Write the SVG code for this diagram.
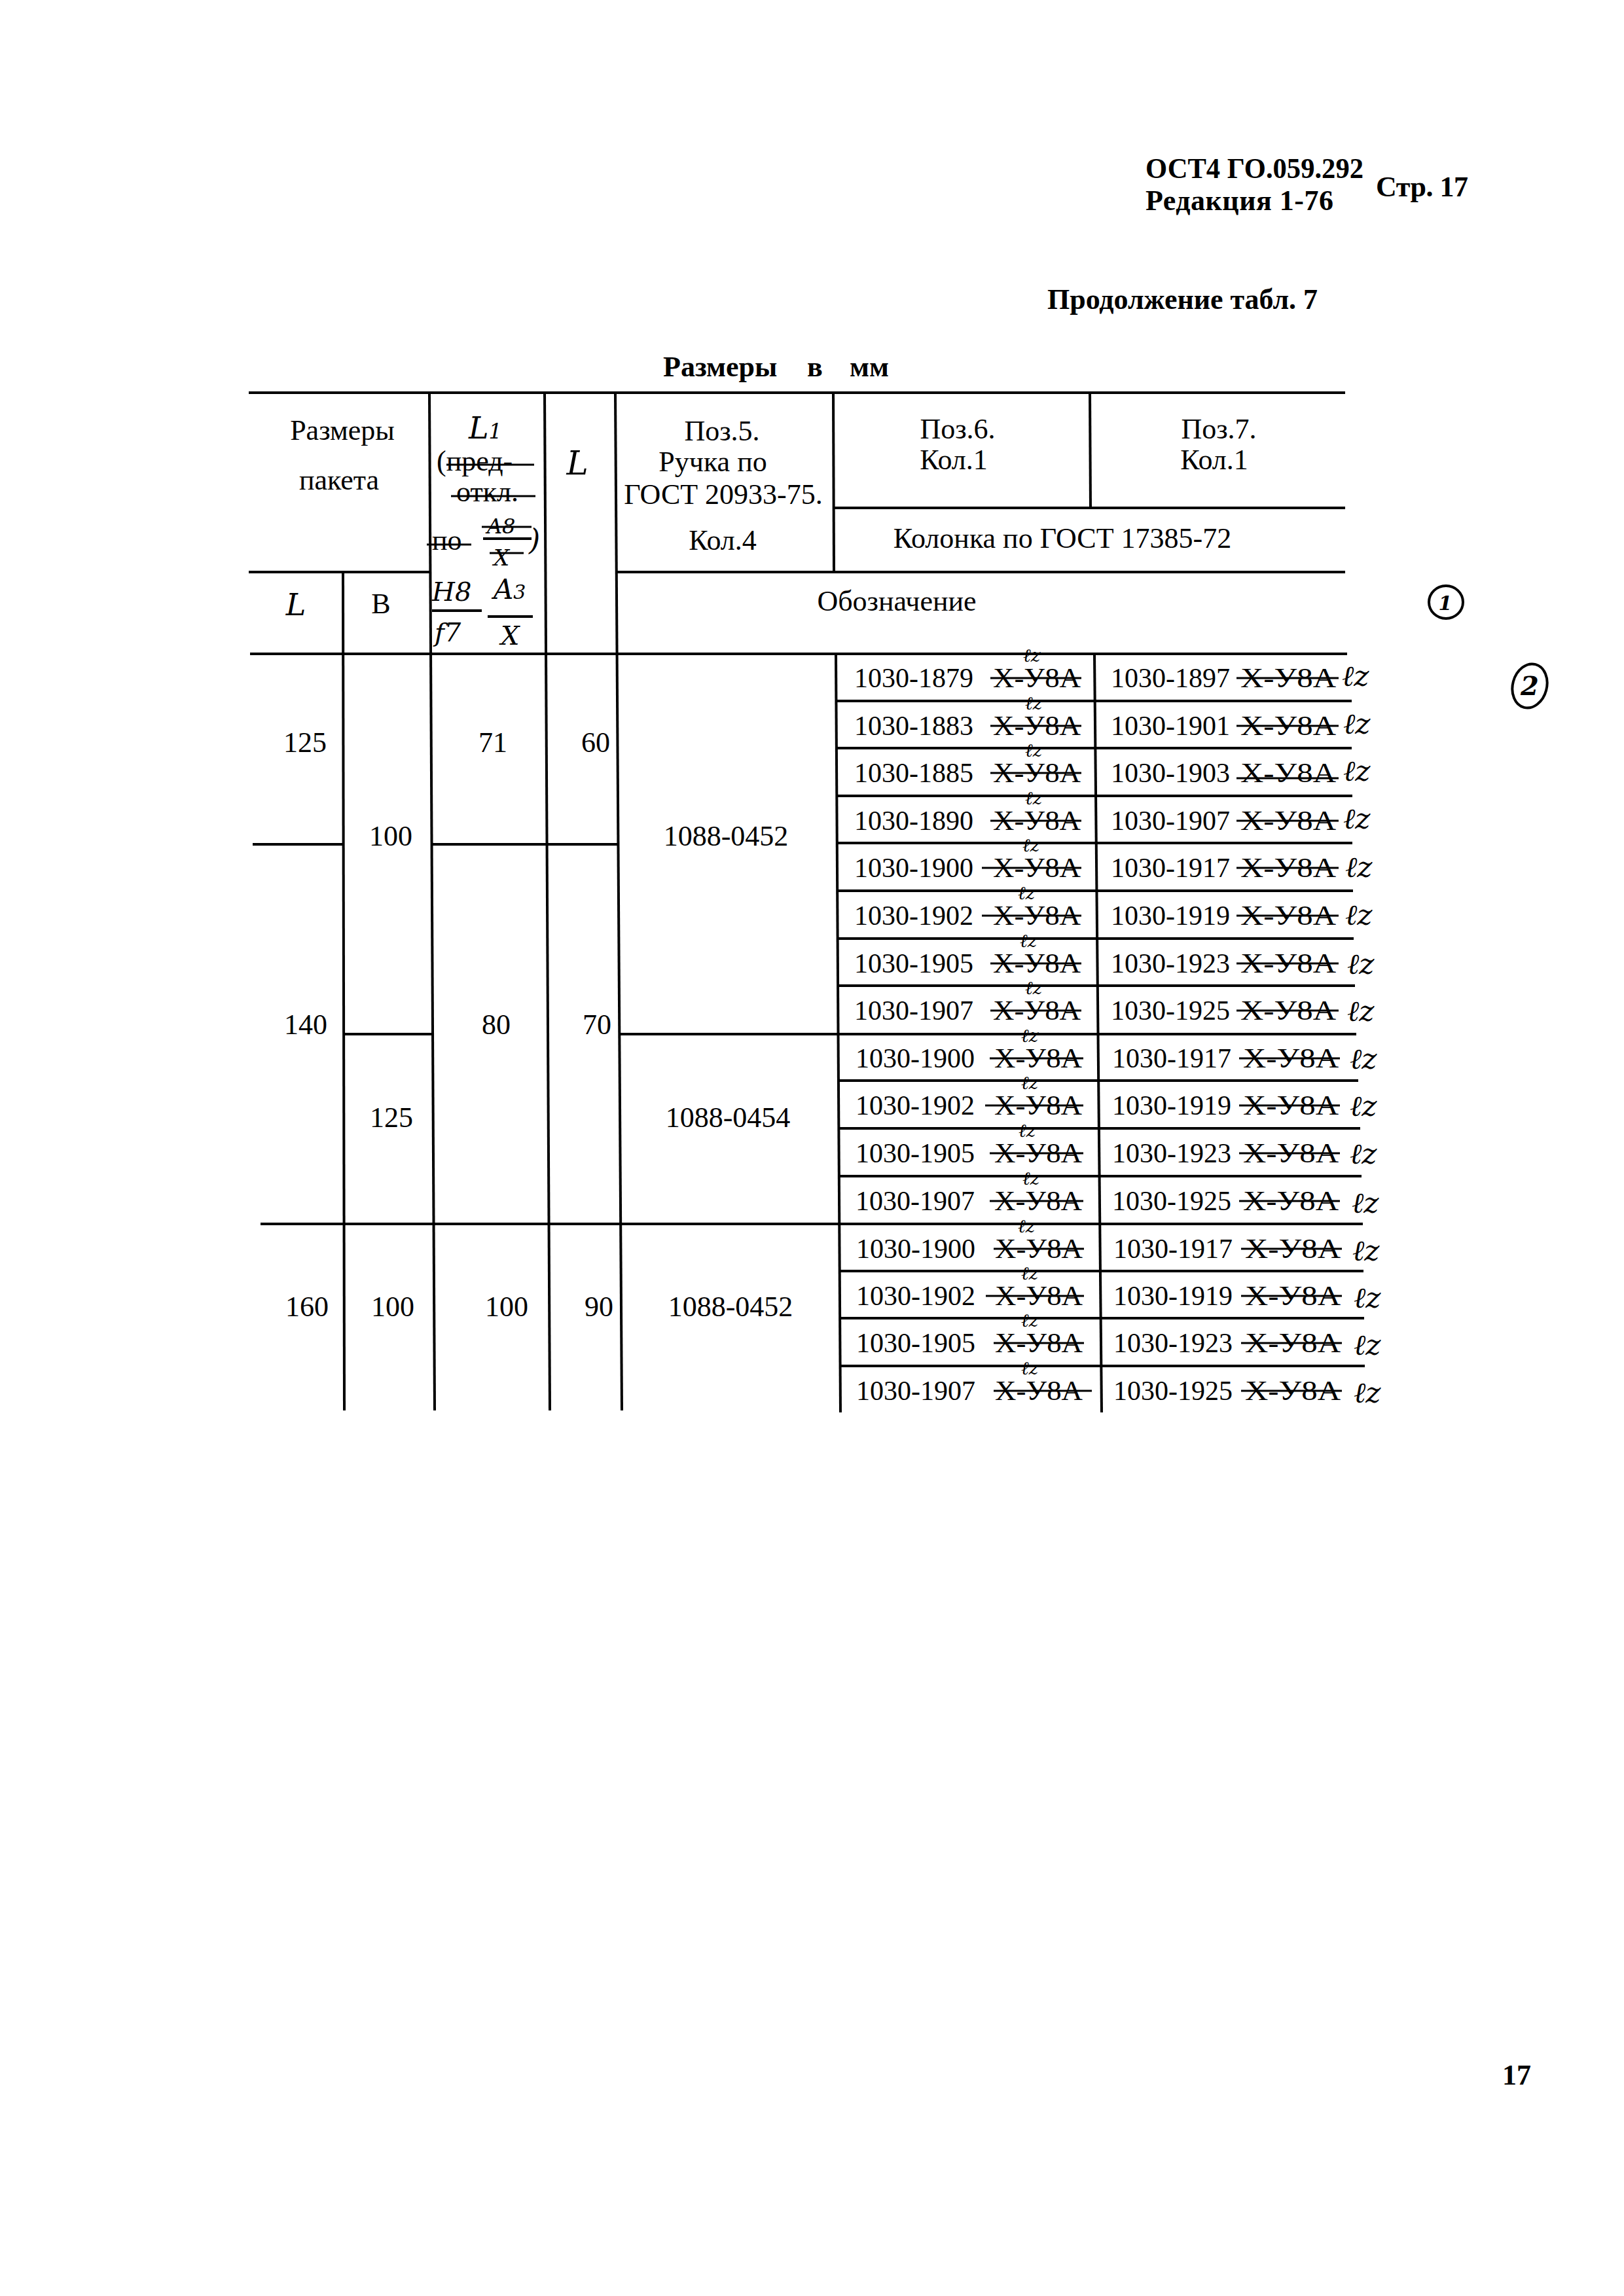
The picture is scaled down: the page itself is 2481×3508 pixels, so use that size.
<svg xmlns="http://www.w3.org/2000/svg" width="2481" height="3508" viewBox="0 0 2481 3508">
<style>
.t{font-family:"Liberation Serif",serif;fill:#000;font-size:44px}
.d{font-family:"Liberation Serif",serif;fill:#000;font-size:42px}
.b{font-weight:bold}
.c{text-anchor:middle}
.hw{font-family:"DejaVu Serif",serif;font-style:italic;fill:#000}
.m6{font-size:28px}
.m7{font-size:44px}
.ln{stroke:#000;stroke-width:4;fill:none}
.sk{stroke:#000;stroke-width:3}
</style>
<defs>
<g id="x6"><text class="d" x="1517" y="52" textLength="134" lengthAdjust="spacingAndGlyphs">Х-У8А</text></g>
</defs>
<rect width="2481" height="3508" fill="#fff"/>

<g id="header">
<text class="t b" x="1750" y="272" font-size="52" textLength="333" lengthAdjust="spacingAndGlyphs">ОСТ4 ГО.059.292</text>
<text class="t b" x="1750" y="321" font-size="42" textLength="287" lengthAdjust="spacing">Редакция 1-76</text>
<text class="t b" x="2102" y="300" font-size="44" textLength="141" lengthAdjust="spacing">Стр. 17</text>
<text class="t b" x="1600" y="472" font-size="40" textLength="413" lengthAdjust="spacing">Продолжение табл. 7</text>
<text class="t b" x="1013" y="575" font-size="40">Размеры</text>
<text class="t b" x="1233" y="575" font-size="40">в</text>
<text class="t b" x="1298" y="575" font-size="40">мм</text>
</g>

<g id="mark1">
<ellipse cx="2209" cy="920" rx="26" ry="25" class="ln" stroke-width="5"/>
<text class="hw c" x="2208" y="932" font-size="30" font-weight="bold">1</text>
</g>
<g id="mark2">
<ellipse cx="2337" cy="1048" rx="26" ry="34" class="ln" stroke-width="5" transform="rotate(15 2337 1048)"/>
<text class="hw c" x="2337" y="1062" font-size="40" font-weight="bold">2</text>
</g>

<g id="grid">
<line class="ln" x1="380" y1="600" x2="2055" y2="600"/>
<line class="ln" x1="1273" y1="776" x2="2055" y2="776"/>
<line class="ln" x1="380" y1="874" x2="656" y2="874"/>
<line class="ln" x1="940" y1="874" x2="2055" y2="874"/>
<line class="ln" x1="382" y1="999" x2="2058" y2="999"/>
<line class="ln" x1="524" y1="874" x2="526" y2="2155"/>
<line class="ln" x1="656" y1="600" x2="664" y2="2155"/>
<line class="ln" x1="832" y1="600" x2="840" y2="2155"/>
<line class="ln" x1="940" y1="600" x2="950" y2="2155"/>
<line class="ln" x1="1273" y1="600" x2="1274" y2="874"/>
<line class="ln" x1="1277" y1="999" x2="1284" y2="2158"/>
<line class="ln" x1="1665" y1="600" x2="1666" y2="776"/>
<line class="ln" x1="1672" y1="999" x2="1683" y2="2158"/>
<line class="ln" x1="1279" y1="1071" x2="2065" y2="1071"/>
<line class="ln" x1="1279" y1="1143" x2="2065" y2="1143"/>
<line class="ln" x1="1279" y1="1216" x2="2066" y2="1216"/>
<line class="ln" x1="1279" y1="1288" x2="2066" y2="1288"/>
<line class="ln" x1="386" y1="1290" x2="524" y2="1290"/>
<line class="ln" x1="660" y1="1290" x2="944" y2="1290"/>
<line class="ln" x1="1280" y1="1361" x2="2067" y2="1361"/>
<line class="ln" x1="1280" y1="1434" x2="2068" y2="1434"/>
<line class="ln" x1="1281" y1="1506" x2="2070" y2="1506"/>
<line class="ln" x1="525" y1="1580" x2="661" y2="1580"/>
<line class="ln" x1="946" y1="1580" x2="2072" y2="1580"/>
<line class="ln" x1="1281" y1="1651" x2="2075" y2="1651"/>
<line class="ln" x1="1281" y1="1724" x2="2078" y2="1724"/>
<line class="ln" x1="1282" y1="1797" x2="2080" y2="1797"/>
<line class="ln" x1="398" y1="1870" x2="2082" y2="1870"/>
<line class="ln" x1="1282" y1="1942" x2="2083" y2="1942"/>
<line class="ln" x1="1283" y1="2014" x2="2084" y2="2014"/>
<line class="ln" x1="1283" y1="2087" x2="2085" y2="2087"/>
</g>

<g id="head-cells">
<text class="t c" x="523" y="672">Размеры</text>
<text class="t c" x="518" y="748">пакета</text>
<text class="hw c" x="452" y="940" font-size="46">L</text>
<text class="t c" x="582" y="937">В</text>

<text class="hw" x="716" y="670" font-size="46">L<tspan font-size="32">1</tspan></text>
<text class="t" x="667" y="719" font-size="34">(пред-</text>
<line class="sk" x1="682" y1="710" x2="816" y2="710"/>
<text class="t" x="697" y="766" font-size="34">откл.</text>
<line class="sk" x1="689" y1="758" x2="818" y2="758"/>
<text class="t" x="660" y="840" font-size="34">по</text>
<line class="sk" x1="652" y1="832" x2="720" y2="832"/>
<text class="hw" x="744" y="815" font-size="32">A8</text>
<line class="sk" x1="736" y1="805" x2="812" y2="805"/>
<line class="ln" x1="738" y1="823" x2="812" y2="823"/>
<text class="hw" x="754" y="864" font-size="34">X</text>
<line class="sk" x1="748" y1="845" x2="800" y2="845"/>
<text class="hw" x="808" y="840" font-size="44">)</text>
<text class="hw" x="660" y="918" font-size="40">H8</text>
<line class="ln" x1="660" y1="933" x2="736" y2="933"/>
<text class="hw" x="664" y="980" font-size="40">f7</text>
<text class="hw" x="754" y="915" font-size="42">A<tspan font-size="30">3</tspan></text>
<line class="ln" x1="745" y1="942" x2="814" y2="942"/>
<text class="hw" x="765" y="985" font-size="40">X</text>

<text class="hw c" x="882" y="725" font-size="50">L</text>

<text class="t c" x="1103" y="673">Поз.5.</text>
<text class="t c" x="1089" y="720">Ручка по</text>
<text class="t c" x="1105" y="770">ГОСТ 20933-75.</text>
<text class="t c" x="1104" y="840">Кол.4</text>
<text class="t c" x="1463" y="670">Поз.6.</text>
<text class="t c" x="1457" y="717">Кол.1</text>
<text class="t c" x="1862" y="670">Поз.7.</text>
<text class="t c" x="1855" y="717">Кол.1</text>
<text class="t c" x="1623" y="837">Колонка по ГОСТ 17385-72</text>
<text class="t c" x="1370" y="933">Обозначение</text>
</g>

<g id="left-values">
<text class="t c" x="466" y="1149">125</text>
<text class="t c" x="467" y="1580">140</text>
<text class="t c" x="469" y="2011">160</text>
<text class="t c" x="597" y="1292">100</text>
<text class="t c" x="598" y="1722">125</text>
<text class="t c" x="600" y="2011">100</text>
<text class="t c" x="753" y="1149">71</text>
<text class="t c" x="758" y="1580">80</text>
<text class="t c" x="774" y="2011">100</text>
<text class="t c" x="910" y="1149">60</text>
<text class="t c" x="912" y="1580">70</text>
<text class="t c" x="915" y="2011">90</text>
<text class="t c" x="1109" y="1292">1088-0452</text>
<text class="t c" x="1112" y="1722">1088-0454</text>
<text class="t c" x="1116" y="2011">1088-0452</text>
</g>

<g id="row1" transform="translate(0,998)"><text class="d" x="1305" y="52">1030-1879</text><text class="d" x="1517" y="52" textLength="134" lengthAdjust="spacingAndGlyphs">Х-У8А</text><line class="sk" x1="1513" y1="38" x2="1652" y2="38"/><text class="hw m6" x="1563" y="13">ℓz</text><text class="d" x="1697" y="52">1030-1897</text><text class="d" x="1895" y="52" textLength="146" lengthAdjust="spacingAndGlyphs">Х-У8А</text><line class="sk" x1="1889" y1="38" x2="2045" y2="38"/><text class="hw m7" x="2050" y="50">ℓz</text></g>
<g id="row2" transform="translate(0,1071)"><text class="d" x="1305" y="52">1030-1883</text><text class="d" x="1517" y="52" textLength="134" lengthAdjust="spacingAndGlyphs">Х-У8А</text><line class="sk" x1="1513" y1="38" x2="1652" y2="38"/><text class="hw m6" x="1566" y="13">ℓz</text><text class="d" x="1697" y="52">1030-1901</text><text class="d" x="1895" y="52" textLength="146" lengthAdjust="spacingAndGlyphs">Х-У8А</text><line class="sk" x1="1889" y1="38" x2="2045" y2="38"/><text class="hw m7" x="2052" y="50">ℓz</text></g>
<g id="row3" transform="translate(0,1143)"><text class="d" x="1305" y="52">1030-1885</text><text class="d" x="1517" y="52" textLength="134" lengthAdjust="spacingAndGlyphs">Х-У8А</text><line class="sk" x1="1513" y1="38" x2="1652" y2="38"/><text class="hw m6" x="1566" y="13">ℓz</text><text class="d" x="1697" y="52">1030-1903</text><text class="d" x="1895" y="52" textLength="146" lengthAdjust="spacingAndGlyphs">Х-У8А</text><line class="sk" x1="1889" y1="46" x2="2045" y2="46"/><text class="hw m7" x="2052" y="50">ℓz</text></g>
<g id="row4" transform="translate(0,1216)"><text class="d" x="1305" y="52">1030-1890</text><text class="d" x="1517" y="52" textLength="134" lengthAdjust="spacingAndGlyphs">Х-У8А</text><line class="sk" x1="1513" y1="38" x2="1652" y2="38"/><text class="hw m6" x="1566" y="13">ℓz</text><text class="d" x="1697" y="52">1030-1907</text><text class="d" x="1895" y="52" textLength="146" lengthAdjust="spacingAndGlyphs">Х-У8А</text><line class="sk" x1="1889" y1="38" x2="2045" y2="38"/><text class="hw m7" x="2052" y="50">ℓz</text></g>
<g id="row5" transform="translate(0,1288)"><text class="d" x="1305" y="52">1030-1900</text><text class="d" x="1517" y="52" textLength="134" lengthAdjust="spacingAndGlyphs">Х-У8А</text><line class="sk" x1="1500" y1="38" x2="1652" y2="38"/><text class="hw m6" x="1562" y="13">ℓz</text><text class="d" x="1697" y="52">1030-1917</text><text class="d" x="1895" y="52" textLength="146" lengthAdjust="spacingAndGlyphs">Х-У8А</text><line class="sk" x1="1889" y1="38" x2="2045" y2="38"/><text class="hw m7" x="2055" y="52">ℓz</text></g>
<g id="row6" transform="translate(0,1361)"><text class="d" x="1305" y="52">1030-1902</text><text class="d" x="1517" y="52" textLength="134" lengthAdjust="spacingAndGlyphs">Х-У8А</text><line class="sk" x1="1500" y1="38" x2="1652" y2="38"/><text class="hw m6" x="1555" y="13">ℓz</text><text class="d" x="1697" y="52">1030-1919</text><text class="d" x="1895" y="52" textLength="146" lengthAdjust="spacingAndGlyphs">Х-У8А</text><line class="sk" x1="1889" y1="38" x2="2045" y2="38"/><text class="hw m7" x="2055" y="52">ℓz</text></g>
<g id="row7" transform="translate(0,1434)"><text class="d" x="1305" y="52">1030-1905</text><text class="d" x="1517" y="52" textLength="134" lengthAdjust="spacingAndGlyphs">Х-У8А</text><line class="sk" x1="1513" y1="38" x2="1652" y2="38"/><text class="hw m6" x="1558" y="13">ℓz</text><text class="d" x="1697" y="52">1030-1923</text><text class="d" x="1895" y="52" textLength="146" lengthAdjust="spacingAndGlyphs">Х-У8А</text><line class="sk" x1="1889" y1="38" x2="2045" y2="38"/><text class="hw m7" x="2058" y="54">ℓz</text></g>
<g id="row8" transform="translate(0,1506)"><text class="d" x="1305" y="52">1030-1907</text><text class="d" x="1517" y="52" textLength="134" lengthAdjust="spacingAndGlyphs">Х-У8А</text><line class="sk" x1="1513" y1="38" x2="1652" y2="38"/><text class="hw m6" x="1566" y="13">ℓz</text><text class="d" x="1697" y="52">1030-1925</text><text class="d" x="1895" y="52" textLength="146" lengthAdjust="spacingAndGlyphs">Х-У8А</text><line class="sk" x1="1889" y1="38" x2="2045" y2="38"/><text class="hw m7" x="2058" y="54">ℓz</text></g>
<g id="row9" transform="translate(0,1579)"><text class="d" x="1307" y="52">1030-1900</text><text class="d" x="1519" y="52" textLength="134" lengthAdjust="spacingAndGlyphs">Х-У8А</text><line class="sk" x1="1512" y1="38" x2="1655" y2="38"/><text class="hw m6" x="1560" y="13">ℓz</text><text class="d" x="1699" y="52">1030-1917</text><text class="d" x="1899" y="52" textLength="146" lengthAdjust="spacingAndGlyphs">Х-У8А</text><line class="sk" x1="1893" y1="38" x2="2047" y2="38"/><text class="hw m7" x="2062" y="54">ℓz</text></g>
<g id="row10" transform="translate(0,1651)"><text class="d" x="1307" y="52">1030-1902</text><text class="d" x="1519" y="52" textLength="134" lengthAdjust="spacingAndGlyphs">Х-У8А</text><line class="sk" x1="1505" y1="38" x2="1655" y2="38"/><text class="hw m6" x="1560" y="13">ℓz</text><text class="d" x="1699" y="52">1030-1919</text><text class="d" x="1899" y="52" textLength="146" lengthAdjust="spacingAndGlyphs">Х-У8А</text><line class="sk" x1="1893" y1="38" x2="2047" y2="38"/><text class="hw m7" x="2062" y="54">ℓz</text></g>
<g id="row11" transform="translate(0,1724)"><text class="d" x="1307" y="52">1030-1905</text><text class="d" x="1519" y="52" textLength="134" lengthAdjust="spacingAndGlyphs">Х-У8А</text><line class="sk" x1="1512" y1="38" x2="1655" y2="38"/><text class="hw m6" x="1556" y="13">ℓz</text><text class="d" x="1699" y="52">1030-1923</text><text class="d" x="1899" y="52" textLength="146" lengthAdjust="spacingAndGlyphs">Х-У8А</text><line class="sk" x1="1893" y1="38" x2="2047" y2="38"/><text class="hw m7" x="2062" y="54">ℓz</text></g>
<g id="row12" transform="translate(0,1797)"><text class="d" x="1307" y="52">1030-1907</text><text class="d" x="1519" y="52" textLength="134" lengthAdjust="spacingAndGlyphs">Х-У8А</text><line class="sk" x1="1512" y1="38" x2="1655" y2="38"/><text class="hw m6" x="1562" y="13">ℓz</text><text class="d" x="1699" y="52">1030-1925</text><text class="d" x="1899" y="52" textLength="146" lengthAdjust="spacingAndGlyphs">Х-У8А</text><line class="sk" x1="1893" y1="38" x2="2047" y2="38"/><text class="hw m7" x="2065" y="56">ℓz</text></g>
<g id="row13" transform="translate(0,1870)"><text class="d" x="1308" y="52">1030-1900</text><text class="d" x="1520" y="52" textLength="134" lengthAdjust="spacingAndGlyphs">Х-У8А</text><line class="sk" x1="1518" y1="38" x2="1656" y2="38"/><text class="hw m6" x="1555" y="13">ℓz</text><text class="d" x="1701" y="52">1030-1917</text><text class="d" x="1902" y="52" textLength="146" lengthAdjust="spacingAndGlyphs">Х-У8А</text><line class="sk" x1="1896" y1="38" x2="2050" y2="38"/><text class="hw m7" x="2066" y="56">ℓz</text></g>
<g id="row14" transform="translate(0,1942)"><text class="d" x="1308" y="52">1030-1902</text><text class="d" x="1520" y="52" textLength="134" lengthAdjust="spacingAndGlyphs">Х-У8А</text><line class="sk" x1="1506" y1="38" x2="1656" y2="38"/><text class="hw m6" x="1560" y="13">ℓz</text><text class="d" x="1701" y="52">1030-1919</text><text class="d" x="1902" y="52" textLength="146" lengthAdjust="spacingAndGlyphs">Х-У8А</text><line class="sk" x1="1896" y1="38" x2="2050" y2="38"/><text class="hw m7" x="2068" y="56">ℓz</text></g>
<g id="row15" transform="translate(0,2014)"><text class="d" x="1308" y="52">1030-1905</text><text class="d" x="1520" y="52" textLength="134" lengthAdjust="spacingAndGlyphs">Х-У8А</text><line class="sk" x1="1518" y1="38" x2="1656" y2="38"/><text class="hw m6" x="1560" y="13">ℓz</text><text class="d" x="1701" y="52">1030-1923</text><text class="d" x="1902" y="52" textLength="146" lengthAdjust="spacingAndGlyphs">Х-У8А</text><line class="sk" x1="1896" y1="38" x2="2050" y2="38"/><text class="hw m7" x="2068" y="56">ℓz</text></g>
<g id="row16" transform="translate(0,2087)"><text class="d" x="1308" y="52">1030-1907</text><text class="d" x="1520" y="52" textLength="134" lengthAdjust="spacingAndGlyphs">Х-У8А</text><line class="sk" x1="1518" y1="38" x2="1668" y2="38"/><text class="hw m6" x="1560" y="13">ℓz</text><text class="d" x="1701" y="52">1030-1925</text><text class="d" x="1902" y="52" textLength="146" lengthAdjust="spacingAndGlyphs">Х-У8А</text><line class="sk" x1="1896" y1="38" x2="2050" y2="38"/><text class="hw m7" x="2068" y="56">ℓz</text></g>

<g id="footer">
<text class="t b c" x="2317" y="3185">17</text>
</g>
</svg>
